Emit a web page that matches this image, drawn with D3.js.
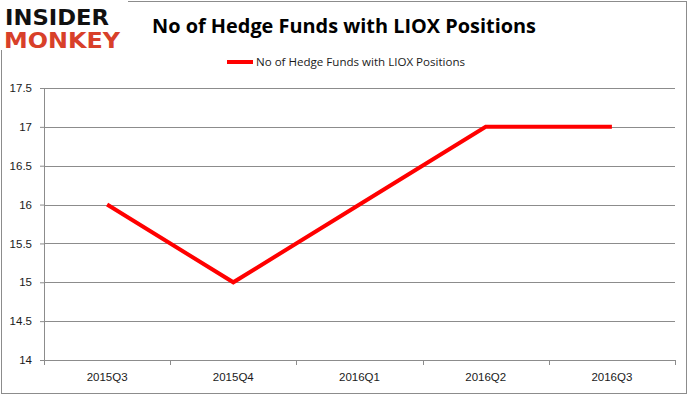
<!DOCTYPE html>
<html lang="en">
<head>
<meta charset="UTF-8">
<title>No of Hedge Funds with LIOX Positions</title>
<style>
    body { margin: 0; background: #fff; }
    svg { display: block; font-family: "Open Sans", "Liberation Sans", sans-serif; }
    .tick text { font-size: 11.5px; fill: #1a1a1a; }
</style>
<script src="https://d3js.org/d3.v7.min.js"></script>
</head>
<body>
<svg id="chart" width="689" height="396"></svg>
<script>
    const quarters = ["2015Q3", "2015Q4", "2016Q1", "2016Q2", "2016Q3"];
    const funds = [16, 15, 16, 17, 17];
    const yTicks = [14, 14.5, 15, 15.5, 16, 16.5, 17, 17.5];
    const seriesName = "No of Hedge Funds with LIOX Positions";

    const svg = d3.select("#chart");
    const margin = { top: 88, right: 14, bottom: 36, left: 44 };
    const width = 689 - margin.left - margin.right;
    const height = 396 - margin.top - margin.bottom;

    // outer frame
    svg.append("rect")
        .attr("x", 1.5).attr("y", 1.5)
        .attr("width", 685).attr("height", 392)
        .attr("fill", "none")
        .attr("stroke", "#8c8c8c");

    const x = d3.scaleBand().domain(quarters).range([0, width]);
    const y = d3.scaleLinear().domain([14, 17.5]).range([height, 0]);

    const g = svg.append("g").attr("transform", `translate(${margin.left},${margin.top})`);

    // gridlines
    g.append("g")
        .selectAll("line")
        .data(yTicks)
        .enter().append("line")
        .attr("x1", 0).attr("x2", width)
        .attr("y1", d => Math.round(y(d)) + 0.5)
        .attr("y2", d => Math.round(y(d)) + 0.5)
        .attr("stroke", "#8c8c8c");

    // y axis
    const yAxis = g.append("g")
        .call(d3.axisLeft(y).tickValues(yTicks).tickSize(4).tickPadding(8).tickFormat(d3.format("")));
    yAxis.select(".domain").attr("stroke", "#8c8c8c");
    yAxis.selectAll(".tick line").attr("stroke", "#8c8c8c");

    // x axis with ticks at band boundaries
    const xAxis = g.append("g")
        .attr("transform", `translate(0,${height})`)
        .call(d3.axisBottom(x).tickSize(0).tickPadding(13));
    xAxis.select(".domain").attr("stroke", "#8c8c8c");
    xAxis.selectAll(".bound")
        .data(d3.range(quarters.length + 1))
        .enter().append("line")
        .attr("x1", i => Math.round(i * x.step()) + 0.5)
        .attr("x2", i => Math.round(i * x.step()) + 0.5)
        .attr("y1", 0).attr("y2", 5)
        .attr("stroke", "#8c8c8c");

    // series line
    const line = d3.line()
        .x((d, i) => x(quarters[i]) + x.bandwidth() / 2)
        .y(d => y(d));

    g.append("path")
        .datum(funds)
        .attr("d", line)
        .attr("fill", "none")
        .attr("stroke", "#ff0000")
        .attr("stroke-width", 4)
        .attr("stroke-linejoin", "miter");

    // title
    svg.append("text")
        .attr("x", 344).attr("y", 33)
        .attr("text-anchor", "middle")
        .style("font-size", "20px")
        .style("font-weight", "bold")
        .attr("fill", "#000")
        .attr("textLength", 384)
        .attr("lengthAdjust", "spacingAndGlyphs")
        .text(seriesName);

    // legend
    const legend = svg.append("g").attr("transform", "translate(227,62)");
    legend.append("line")
        .attr("x1", 0).attr("x2", 26)
        .attr("stroke", "#ff0000").attr("stroke-width", 4);
    legend.append("text")
        .attr("x", 29).attr("y", 4)
        .style("font-size", "11px")
        .attr("fill", "#1a1a1a")
        .attr("textLength", 209)
        .attr("lengthAdjust", "spacingAndGlyphs")
        .text(seriesName);

    // logo
    const logo = svg.append("g");
    logo.append("rect").attr("x", 0).attr("y", 0).attr("width", 128).attr("height", 50).attr("fill", "#fff");
    logo.append("text")
        .attr("x", 5).attr("y", 25)
        .style("font-family", "'DejaVu Sans', sans-serif")
        .style("font-size", "22px").style("font-weight", "bold")
        .attr("fill", "#111")
        .attr("textLength", 104).attr("lengthAdjust", "spacingAndGlyphs")
        .text("INSIDER");
    logo.append("text")
        .attr("x", 4).attr("y", 48)
        .style("font-family", "'DejaVu Sans', sans-serif")
        .style("font-size", "22px").style("font-weight", "bold")
        .attr("fill", "#d8402a")
        .attr("textLength", 116).attr("lengthAdjust", "spacingAndGlyphs")
        .text("MONKEY");
</script>
</body>
</html>
